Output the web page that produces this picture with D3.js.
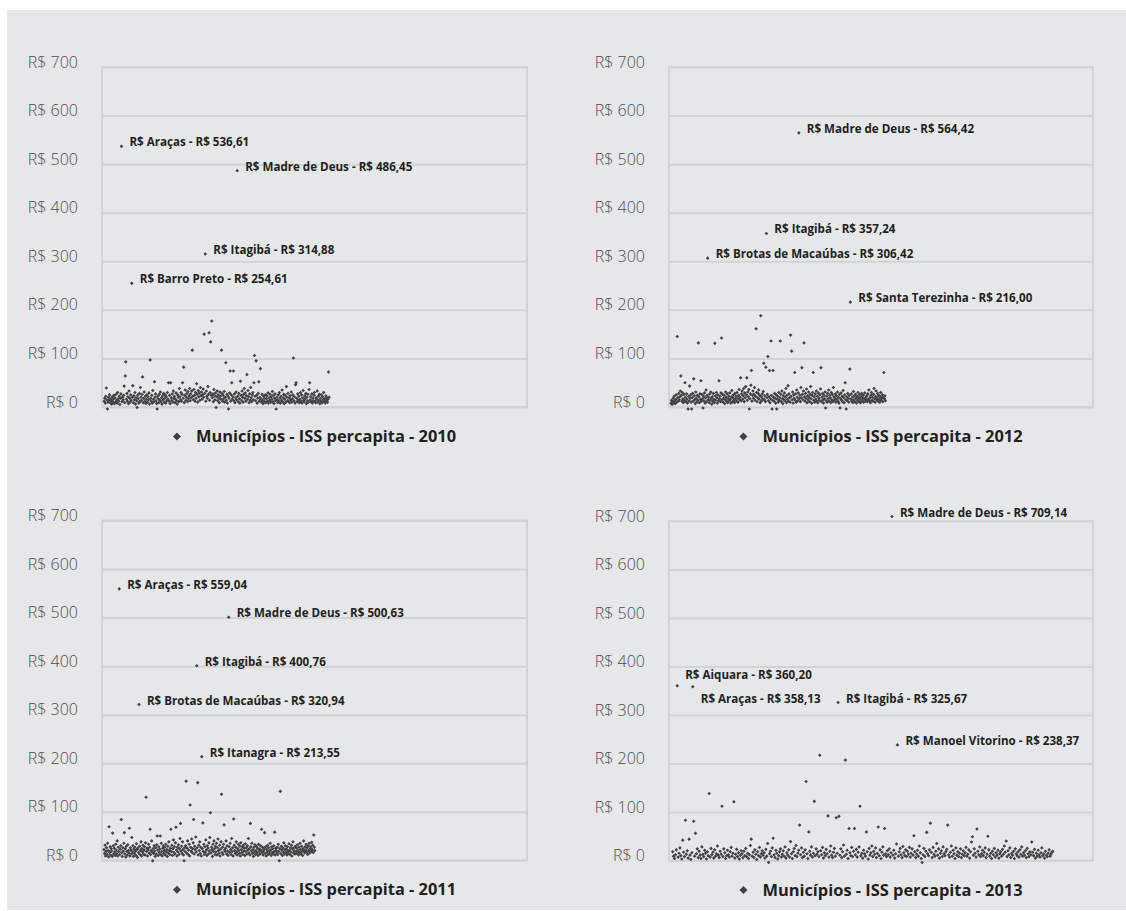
<!DOCTYPE html>
<html><head><meta charset="utf-8">
<script src="https://cdn.jsdelivr.net/npm/d3@7"></script>
<style>
body{margin:0;background:#fff}
svg{display:block}
text{font-family:'Open Sans','Noto Sans',sans-serif}
</style>
</head><body>
<svg id="chart" width="1126" height="911"></svg>
<script>
// ---------- DATA ----------
const yTicks = [0, 100, 200, 300, 400, 500, 600, 700];
const yTickLabels = ["R$ 0", "R$ 100", "R$ 200", "R$ 300", "R$ 400", "R$ 500", "R$ 600", "R$ 700"];
const legendTitles = ["Municípios - ISS percapita - 2010", "Municípios - ISS percapita - 2012",
                      "Municípios - ISS percapita - 2011", "Municípios - ISS percapita - 2013"];

// ISS per capita of the 417 municipalities, in list order
const iss2010 = [
12,18,8,22,39,15,-4,10,20,14,25,9,17,13,6,21,11,16,24,7,
19,10,26,14,8,30,17,12,22,5,18,27,536.61,11,20,15,24,43,9,64,
93,16,28,12,21,7,33,18,10,25,14,254.61,20,44,9,23,15,30,6,19,
13,-1,24,17,8,28,11,40,20,14,26,62,9,18,31,12,22,7,16,25,
10,21,15,29,6,97,18,12,24,8,34,16,11,52,20,27,13,7,-4,22,
17,9,26,14,31,11,19,6,23,15,28,10,18,25,8,21,13,30,16,50,
12,24,7,50,19,14,27,10,33,18,22,9,16,29,13,6,25,20,11,38,
21,15,30,12,26,50,18,82,9,24,35,14,20,28,11,32,17,23,38,13,
27,19,33,117,22,15,36,24,12,30,18,48,26,10,34,21,29,14,40,23,
31,16,25,37,20,150,28,314.88,12,33,22,18,42,26,153,14,30,134,24,177,
19,27,11,36,23,15,29,-1,21,33,13,25,18,9,31,22,16,117,28,12,
24,17,32,10,20,91,14,26,8,22,-4,18,29,74,12,25,50,16,21,74,
13,27,9,19,31,15,486.45,22,11,28,17,8,53,24,14,33,20,10,26,38,
18,29,12,23,67,16,34,21,9,27,14,40,19,11,25,30,15,50,106,22,
13,95,24,8,18,28,52,12,20,79,16,10,26,14,7,22,18,11,25,9,
17,23,12,29,8,19,14,26,10,21,16,32,11,24,7,18,27,13,-4,20,
15,9,25,12,30,18,8,22,14,35,11,19,26,7,16,24,10,42,20,13,
28,12,19,9,23,15,31,10,17,25,101,13,21,8,46,50,18,11,27,14,
22,9,16,30,12,25,8,19,34,14,11,23,17,28,7,20,13,26,10,36,
50,15,21,11,27,8,18,13,24,30,12,9,19,16,33,10,22,14,26,7,
18,12,25,9,21,15,30,11,17,8,23,14,19,10,16,72,20];

const iss2012 = [
8,14,5,11,18,9,22,13,7,16,25,10,145,19,12,28,15,21,33,64,
24,12,30,17,9,26,14,50,20,11,27,16,8,-4,22,13,43,18,25,10,
-4,19,28,12,58,23,15,7,31,18,10,24,14,132,21,9,27,16,54,12,
26,17,-2,22,13,29,8,19,35,11,24,306.42,15,20,9,27,14,31,18,6,
21,12,28,16,9,131,23,14,30,19,8,25,13,54,17,22,11,29,142,15,
26,10,18,24,7,15,31,20,12,27,9,17,22,13,29,16,8,21,34,11,
19,25,14,9,28,17,22,12,30,18,10,24,36,15,20,60,13,27,33,16,
23,38,11,29,19,42,25,60,14,31,21,36,-4,17,27,45,75,12,24,33,
18,26,40,14,22,161,30,11,19,28,35,16,24,9,188,21,13,27,17,32,
90,15,23,11,82,357.24,19,26,104,13,21,75,9,17,136,24,-4,14,75,20,
12,28,18,8,25,-4,16,22,10,30,14,19,136,26,11,33,17,7,23,15,
29,13,20,38,9,24,16,44,12,27,19,10,148,22,115,15,31,8,25,18,
71,14,27,10,35,20,13,29,564.42,17,24,11,40,19,81,26,15,33,132,21,
12,28,18,37,9,23,15,31,20,11,26,42,17,8,24,30,71,14,21,10,
27,16,33,12,22,9,29,18,14,25,37,81,11,20,28,15,8,24,17,31,
-2,13,22,10,28,17,35,12,24,19,9,30,15,26,11,40,21,14,18,27,
10,23,16,31,12,20,8,26,-2,17,29,14,22,11,34,19,9,25,50,15,
-4,21,13,28,18,10,24,78,216.00,16,27,12,20,9,32,15,23,11,26,18,
8,22,14,30,19,11,25,16,9,21,28,13,18,24,10,17,29,12,20,15,
23,11,27,16,35,13,19,9,24,30,14,20,12,26,38,17,10,22,33,15,
19,28,12,24,16,10,21,30,14,18,25,11,20,71,17,23,13];

const iss2011 = [
22,14,31,9,18,26,12,35,20,7,69,16,28,11,24,19,8,56,30,13,
25,17,10,33,21,14,40,9,27,18,559.04,12,23,30,84,16,8,26,19,35,
57,13,24,7,29,18,11,32,20,15,66,9,26,21,13,47,17,30,8,23,
14,27,19,10,34,22,6,25,16,320.94,29,12,20,38,9,24,17,31,13,21,
28,11,36,130,18,25,9,22,33,15,27,64,12,20,40,17,-1,24,14,30,
19,8,26,13,32,50,21,10,28,16,23,50,12,35,18,9,25,30,14,20,
27,11,33,17,22,8,29,15,38,20,12,25,64,18,31,10,24,42,16,28,
13,36,68,21,9,27,17,32,12,24,45,76,19,29,14,38,22,11,-1,26,
18,30,163,15,25,40,12,21,33,9,114,27,19,44,16,24,36,84,13,29,
22,48,17,400.76,26,160,11,31,20,38,14,27,9,213.55,24,77,18,33,12,28,
16,42,21,10,30,25,13,36,19,47,98,15,27,22,8,33,18,40,24,12,
29,17,35,11,26,44,20,14,31,9,23,38,136,16,27,12,33,73,21,18,
25,40,13,30,19,10,500.63,28,16,35,22,12,45,18,26,9,85,31,20,14,
27,38,17,11,24,33,20,14,29,9,36,22,16,28,12,31,19,25,10,34,
18,26,13,30,21,45,15,24,11,76,28,19,35,14,22,8,27,17,32,12,
20,29,15,25,10,33,18,23,13,30,21,64,16,27,11,19,24,57,14,28,
9,22,17,31,12,26,19,14,35,21,10,28,16,24,13,30,18,58,11,25,
20,15,27,12,33,18,-1,24,142,14,29,21,10,26,17,36,13,22,30,16,
23,11,28,19,14,34,21,12,26,17,31,9,24,38,15,20,27,13,29,18,
25,14,32,20,11,27,16,35,22,13,29,18,10,24,40,19,15,28,21,33,
17,26,12,30,20,35,15,24,28,18,37,22,31,16,52,27,20];

const iss2013 = [
18,9,4,12,22,360.20,7,15,26,10,3,42,17,8,83,13,20,5,44,11,
2,16,358.13,81,9,56,14,24,6,19,11,4,28,13,8,21,15,3,18,10,
138,7,25,12,17,5,22,9,14,30,11,6,19,13,112,8,24,16,4,10,
21,12,7,18,27,9,15,121,5,13,23,8,16,3,11,20,14,6,19,10,
25,8,15,4,12,31,44,9,17,6,22,13,2,18,10,27,7,14,20,11,
16,5,23,9,35,-4,14,19,8,26,46,12,6,21,15,3,10,18,24,7,
13,20,9,28,5,16,11,22,7,39,14,4,18,25,10,31,8,15,21,73,
12,26,6,17,9,22,163,14,4,59,19,11,28,7,15,122,10,24,13,18,
8,217,20,12,27,5,16,10,23,14,92,7,19,30,11,6,17,25,9,88,
15,325.67,91,11,24,6,18,32,9,207,13,21,4,66,16,10,27,8,19,66,
12,23,7,17,28,112,10,15,5,21,14,9,59,18,3,25,11,16,30,8,
19,13,26,6,15,69,10,22,4,17,28,11,66,14,8,20,12,24,7,16,
709.14,11,21,5,14,34,238.37,9,18,25,12,6,29,16,10,22,8,19,13,27,
7,15,24,11,51,18,6,13,21,9,30,16,4,-4,12,25,8,19,58,14,
10,22,77,17,6,27,13,9,19,35,11,24,5,15,20,8,28,14,10,18,
23,73,12,7,17,30,9,21,14,4,26,11,18,8,15,24,6,13,20,10,
16,27,9,13,22,5,18,38,49,11,24,15,7,65,19,12,28,8,14,21,
10,17,26,6,13,50,22,9,15,4,19,12,25,7,16,11,21,5,14,18,
9,23,13,30,17,40,8,20,12,26,6,15,11,19,4,24,14,10,18,7,
22,13,28,9,16,11,20,6,25,14,8,18,12,38,17,10,23,5,15,9,
21,12,7,16,26,10,14,5,19,11,8,15,22,9,13,17,19];

// labelled municipalities (name, position in list)
const lab2010Names = ["Araças", "Madre de Deus", "Itagibá", "Barro Preto"];
const lab2010Idx   = [32, 246, 187, 51];
const lab2012Names = ["Madre de Deus", "Itagibá", "Brotas de Macaúbas", "Santa Terezinha"];
const lab2012Idx   = [248, 185, 71, 348];
const lab2011Names = ["Araças", "Madre de Deus", "Itagibá", "Brotas de Macaúbas", "Itanagra"];
const lab2011Idx   = [30, 246, 183, 69, 193];
const lab2013Names = ["Aiquara", "Araças", "Itagibá", "Madre de Deus", "Manoel Vitorino"];
const lab2013Idx   = [5, 22, 181, 240, 246];

// ---------- LAYOUT ----------
const panels = [
  {data: iss2010, names: lab2010Names, idx: lab2010Idx, title: legendTitles[0], xMax: 782,
   left: 102, right: 527, top: 67, bottom: 407, dys: [0,0,0,0]},
  {data: iss2012, names: lab2012Names, idx: lab2012Idx, title: legendTitles[1], xMax: 819,
   left: 669, right: 1093, top: 67, bottom: 407, dys: [0,0,0,0]},
  {data: iss2011, names: lab2011Names, idx: lab2011Idx, title: legendTitles[2], xMax: 835,
   left: 102, right: 527, top: 520.5, bottom: 860.3, dys: [0,0,0,0,0]},
  {data: iss2013, names: lab2013Names, idx: lab2013Idx, title: legendTitles[3], xMax: 460,
   left: 669, right: 1093, top: 521, bottom: 860.5, dys: [-7,16,0,0,0]}
];

const ptBR = d3.formatLocale({decimal: ",", thousands: ".", grouping: [3], currency: ["R$ ", ""]});
const fmt = ptBR.format("$.2f");

const svg = d3.select("#chart");
svg.append("rect").attr("x", 7).attr("y", 10).attr("width", 1119).attr("height", 900).attr("fill", "#e6e7e8");

const gridCol = "#d1d3d4";
const markCol = "#414042";
const sq = d3.symbol().type(d3.symbolSquare);

panels.forEach(p => {
  const g = svg.append("g");
  const y = d3.scaleLinear().domain([0, 700]).range([p.bottom, p.top]);
  const x = d3.scaleLinear().domain([-4, p.xMax]).range([p.left, p.right]);

  const ax = d3.axisLeft(y).tickValues(yTicks)
      .tickFormat((d, i) => yTickLabels[i])
      .tickSize(-(p.right - p.left)).tickPadding(24);
  const axG = g.append("g").attr("transform", `translate(${p.left},0)`).call(ax);
  axG.select(".domain").remove();
  axG.selectAll(".tick line").attr("stroke", gridCol).attr("stroke-width", 2);
  axG.selectAll(".tick text").attr("dy", 0).attr("fill", "#4d4d4f")
     .style("font-size", "16px").style("font-weight", 300);

  // frame
  g.append("rect").attr("x", p.left).attr("y", p.top)
    .attr("width", p.right - p.left).attr("height", p.bottom - p.top)
    .attr("fill", "none").attr("stroke", gridCol).attr("stroke-width", 2);

  // points
  g.append("g").selectAll("path").data(p.data).join("path")
    .attr("d", sq.size(6.5)())
    .attr("transform", (d, i) => `translate(${x(i)},${y(d)}) rotate(45)`)
    .attr("fill", markCol);

  // data labels
  g.append("g").selectAll("text").data(p.idx).join("text")
    .attr("x", d => x(d) + 8)
    .attr("y", (d, i) => y(p.data[d]) + p.dys[i])
    .style("font-size", "11.6px").style("font-weight", 700).attr("fill", "#231f20")
    .text((d, i) => "R$ " + p.names[i] + " - " + fmt(p.data[d]));

  // legend
  const lg = g.append("g");
  const lt = lg.append("text").attr("x", 23).attr("y", 0)
    .style("font-size", "16.4px").style("font-weight", 700).attr("fill", "#231f20")
    .text(p.title);
  lg.append("path").attr("d", d3.symbol().type(d3.symbolSquare).size(32)())
    .attr("transform", "translate(4,-5.5) rotate(45)").attr("fill", markCol);
  const tw = lt.node().getComputedTextLength();
  const total = 23 + tw;
  const cx = (p.left + p.right) / 2;
  lg.attr("transform", `translate(${cx - total / 2},${p.bottom + 35})`);
});
</script>
</body></html>
